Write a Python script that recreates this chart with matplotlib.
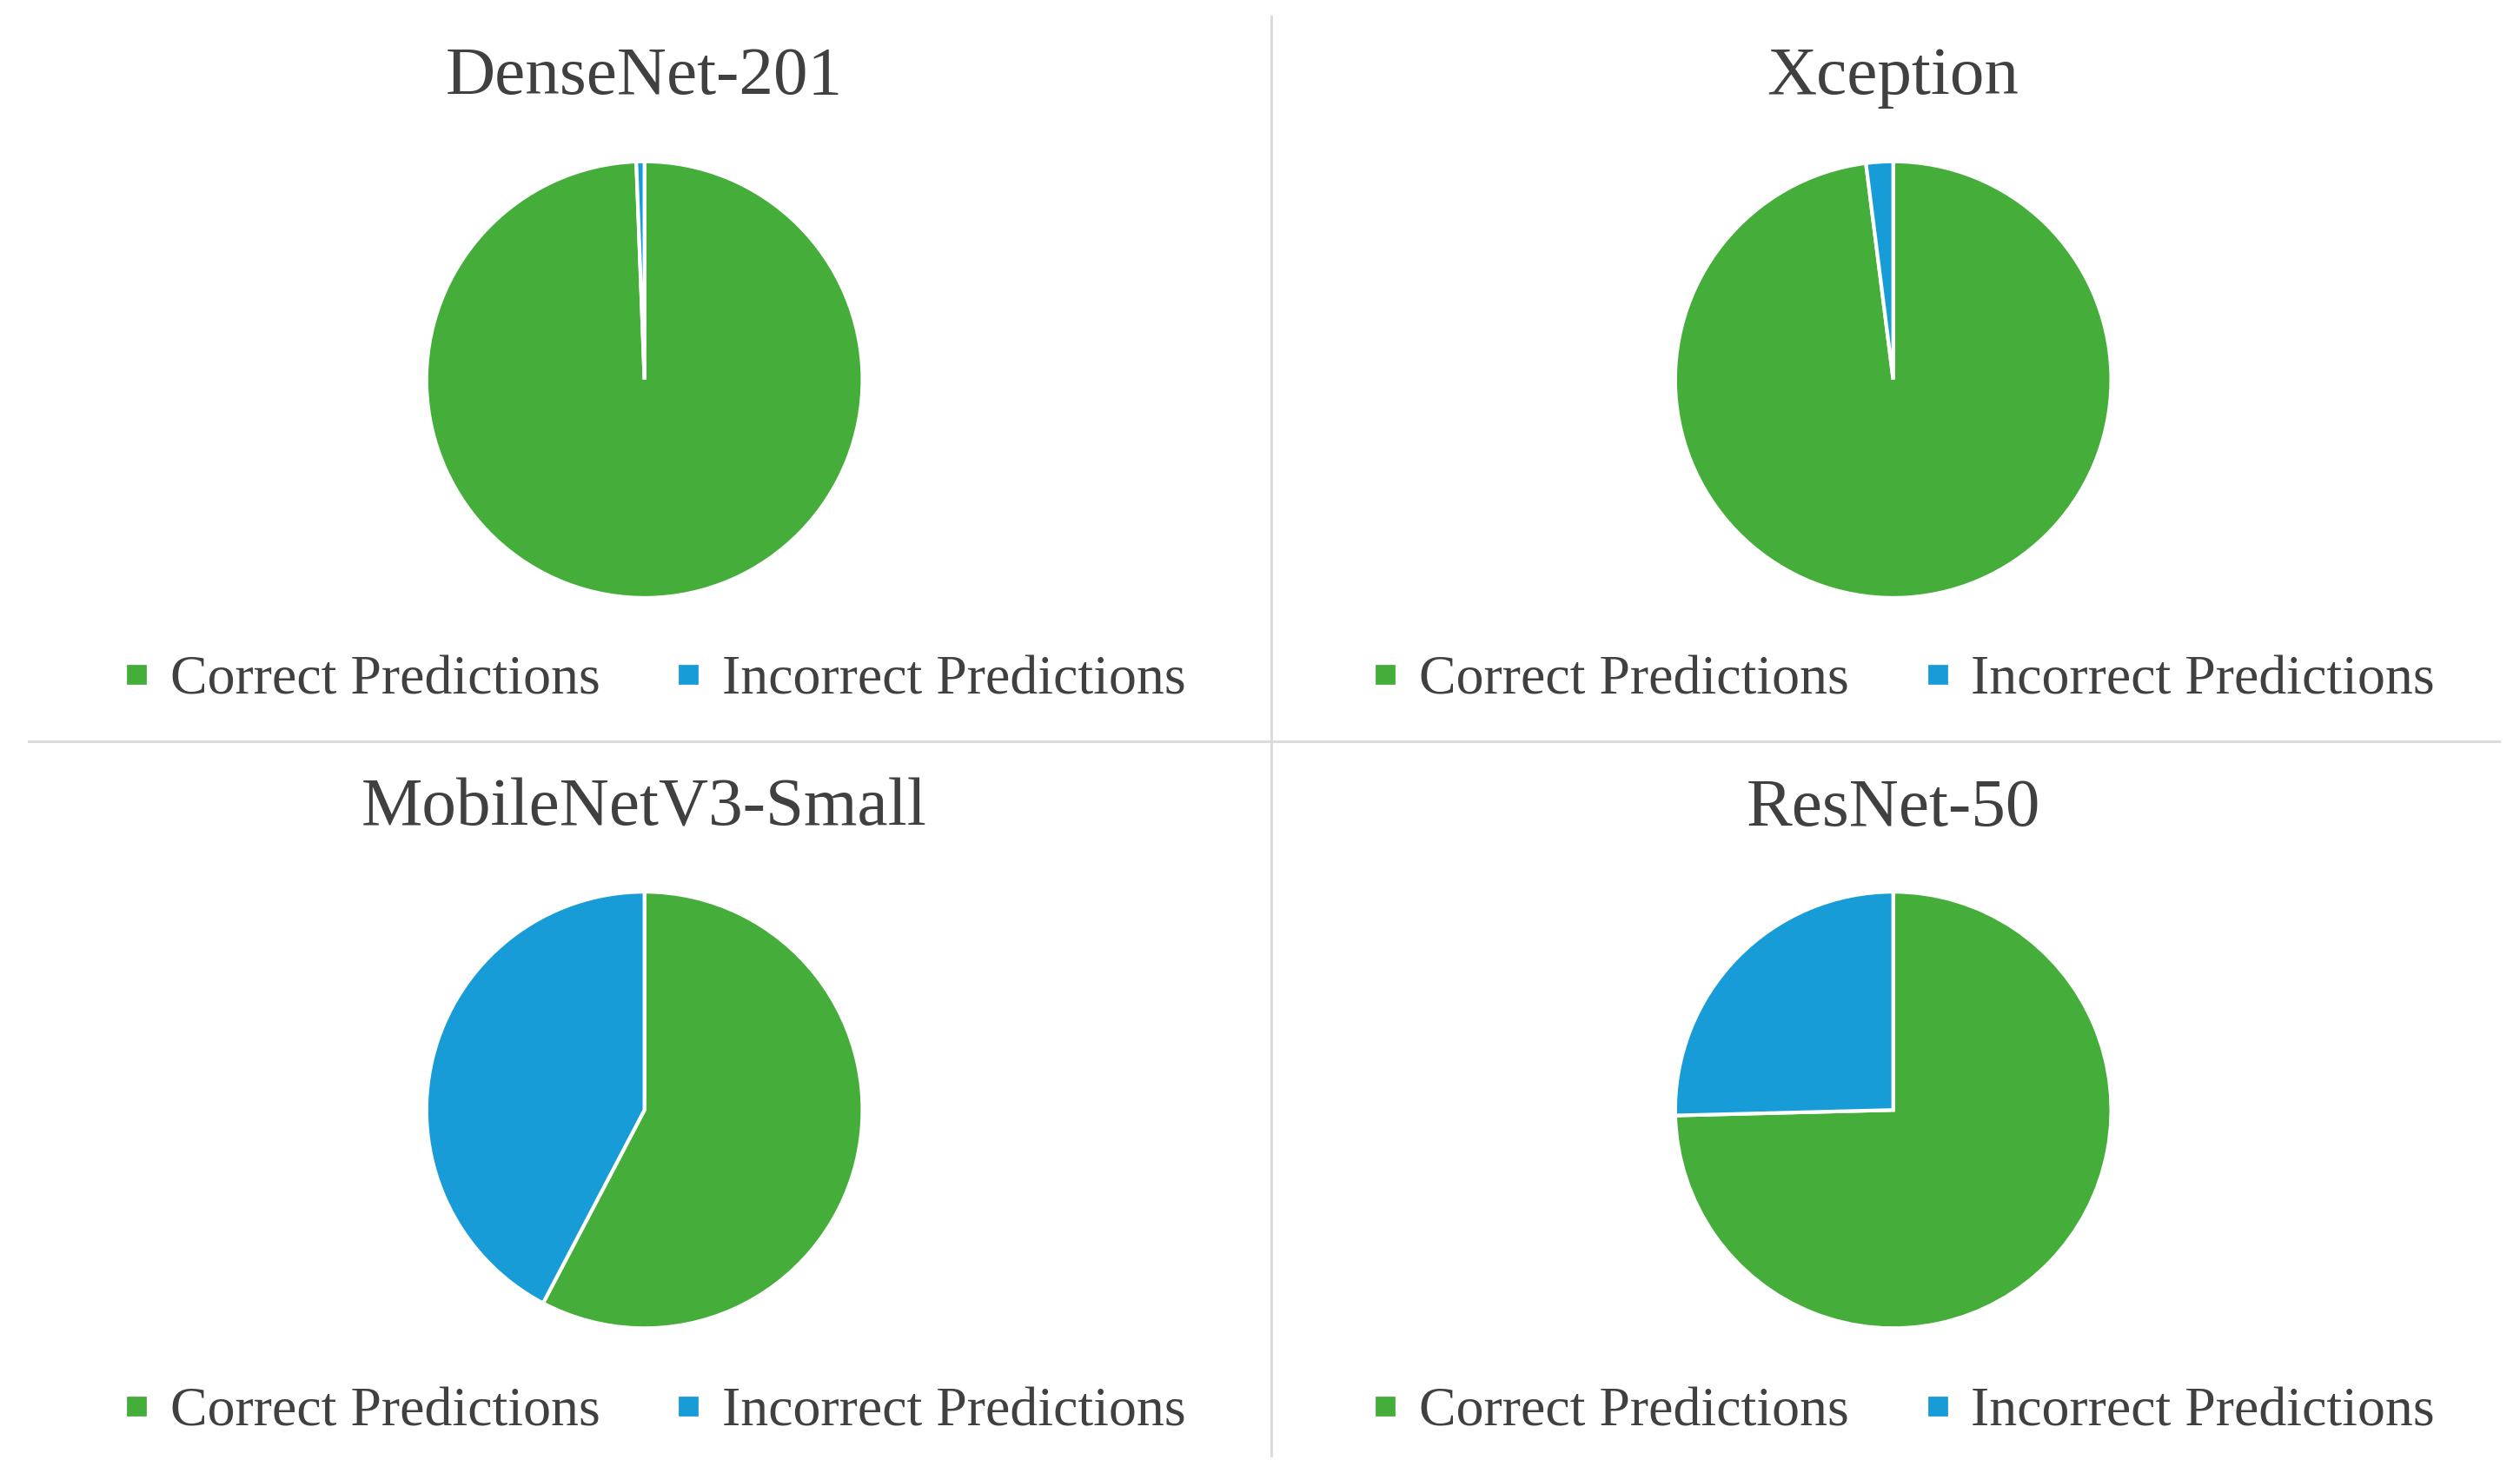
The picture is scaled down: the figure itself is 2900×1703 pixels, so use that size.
import matplotlib
matplotlib.use("Agg")
import matplotlib.pyplot as plt
from matplotlib.lines import Line2D

# Data (percent of predictions)
models    = ['DenseNet-201', 'Xception', 'MobileNetV3-Small', 'ResNet-50']
correct   = [99.4, 98.0, 57.7, 74.6]
incorrect = [0.6, 2.0, 42.3, 25.4]
labels    = ['Correct Predictions', 'Incorrect Predictions']
colors    = ['#45AD3A', '#189CD8']

W, H = 1568., 920.
fig = plt.figure(figsize=(14.5, 8.515), dpi=200)
fig.patch.set_facecolor('white')

# pixel positions in reference (display scale)
centers = [(401, 236), (1178, 236), (401, 690), (1178, 690)]
title_y = [48, 48, 503, 503]
legend_y = [423, 423, 878, 878]
r = 137

for i, name in enumerate(models):
    cx, cy = centers[i]
    ax = fig.add_axes([(cx - r) / W, 1 - (cy + r) / H, 2 * r / W, 2 * r / H])
    ax.pie([correct[i], incorrect[i]], colors=colors, startangle=90, counterclock=False,
           wedgeprops=dict(edgecolor='white', linewidth=1.5))
    ax.set_aspect('auto')
    ax.set_xlim(-1.01, 1.01)
    ax.set_ylim(-1.01, 1.01)
    fig.text(cx / W, 1 - title_y[i] / H, name, ha='center', va='center',
             family='Liberation Serif', fontsize=28.5, color='#404040')
    handles = [Line2D([], [], marker='s', linestyle='', color=c, markersize=7) for c in colors]
    fig.legend(handles, labels, loc='center', bbox_to_anchor=(cx / W, 1 - legend_y[i] / H),
               ncol=2, frameon=False, handletextpad=0.0, handlelength=1.2, columnspacing=1.0,
               prop=dict(family='Liberation Serif', size=23), labelcolor='#404040')

# divider lines
fig.add_artist(Line2D([791 / W, 791 / W], [1 - 10 / H, 1 - 905 / H], color='#D9D9D9', lw=1))
fig.add_artist(Line2D([18 / W, 1555 / W], [1 - 461 / H, 1 - 461 / H], color='#D9D9D9', lw=1))

fig.savefig('out.png', dpi=200, facecolor='white')
